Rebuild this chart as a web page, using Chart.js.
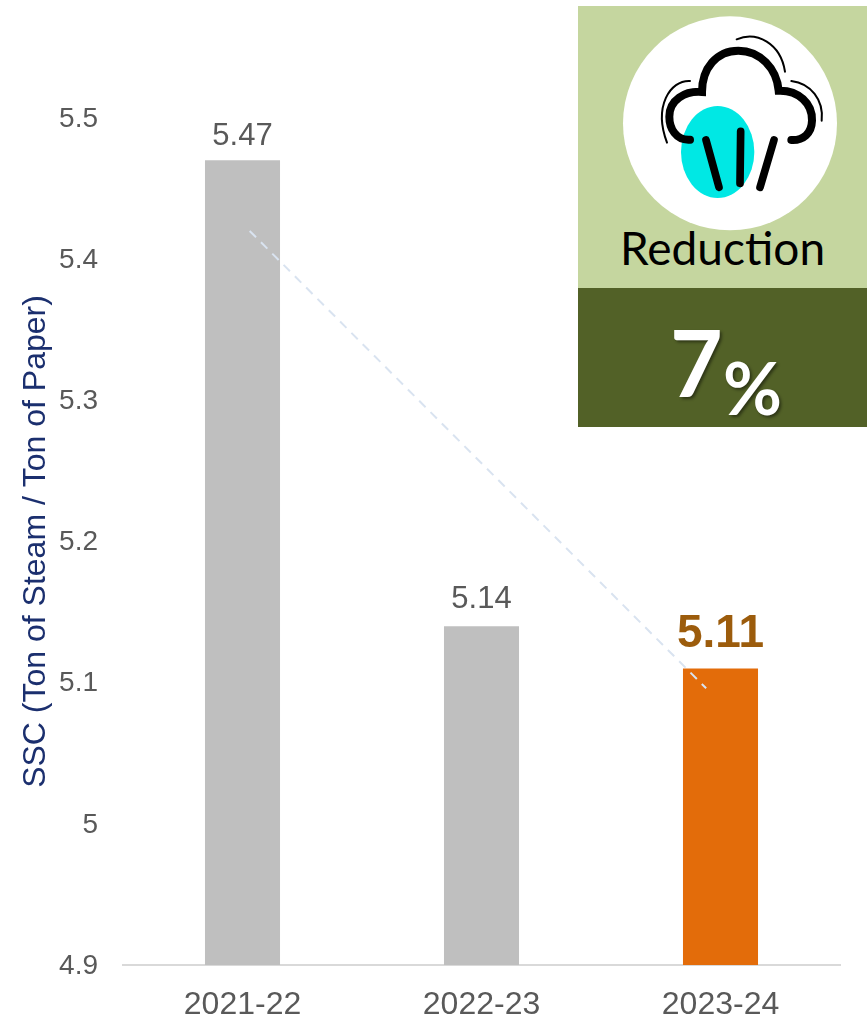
<!DOCTYPE html>
<html>
<head>
<meta charset="utf-8">
<title>SSC Reduction</title>
<script src="https://cdn.jsdelivr.net/npm/chart.js"></script>
<style>
  body { margin: 0; background: #fff; }
  #wrap { position: relative; width: 867px; height: 1020px; overflow: hidden; }
  canvas { position: absolute; left: 0; top: 0; }
  .panel { position: absolute; left: 578px; width: 289px; }
  #top-panel { top: 6px; height: 282px; background: #C5D69F; }
  #bottom-panel { top: 288px; height: 139px; background: #526127; }
  #icon { position: absolute; left: 570px; top: 0; width: 297px; height: 430px; }
  .txt { position: absolute; font-family: Lato, sans-serif; line-height: 1; white-space: nowrap; }
  #reduction { left: 620px; top: 225px; font-size: 46px; color: #000; }
  .pct { color: #fff; font-weight: 700; text-shadow: 2px 2px 3px rgba(0,0,0,.45); }
  #seven { left: 670px; top: 316px; font-size: 91px; }
  #percent { left: 723px; top: 351px; font-size: 72px; }
</style>
</head>
<body>
<div id="wrap">
  <canvas id="sscChart" width="867" height="1020"></canvas>
  <div class="panel" id="top-panel"></div>
  <div class="panel" id="bottom-panel"></div>
  <svg id="icon" viewBox="0 0 891 1290">
    <circle cx="480" cy="370" r="321" fill="#fff"/>
    <ellipse cx="443" cy="456" rx="110" ry="138" fill="#00E8E4"/>
    <g fill="none" stroke="#000" stroke-linecap="round">
      <path stroke-width="24" d="M360 419 C318 422 298 385 298 350 C298 300 345 272 396 276 C396 205 440 152 505 152 C570 152 620 205 626 272 C685 270 728 310 726 362 C725 400 700 422 664 420"/>
      <path stroke-width="23" d="M408 420 L447 562 M512 394 L510 550 M612 420 L570 562"/>
      <path stroke-width="6" d="M500 118 C560 92 632 130 645 215 M664 243 C722 250 762 300 755 362 M360 243 C300 240 250 320 291 428"/>
    </g>
  </svg>
  <div class="txt" id="reduction">Reduction</div>
  <div class="txt pct" id="seven">7</div>
  <div class="txt pct" id="percent">%</div>
</div>
<script>
  const categories = ['2021-22', '2022-23', '2023-24'];
  const sscValues = [5.47, 5.14, 5.11];
  const barColors = ['#BFBFBF', '#BFBFBF', '#E36C0A'];
  const yTicks = [4.9, 5, 5.1, 5.2, 5.3, 5.4, 5.5];

  // trend line, x is in category index units
  const trendX = [0.03, 1.94];
  const trendY = [5.42, 5.096];

  const labelColors = ['#595959', '#595959', '#9C5C0C'];
  const labelFonts = ['31px "Liberation Sans"', '31px "Liberation Sans"', 'bold 46px "Liberation Sans"'];
  const labelGaps = [15, 18, 22];

  // Value labels above the bars
  const barLabels = {
    id: 'barLabels',
    afterDatasetsDraw(chart) {
      const ctx = chart.ctx;
      const bars = chart.getDatasetMeta(1).data;
      ctx.save();
      ctx.textAlign = 'center';
      ctx.textBaseline = 'alphabetic';
      bars.forEach((bar, i) => {
        ctx.font = labelFonts[i];
        ctx.fillStyle = labelColors[i];
        ctx.fillText(sscValues[i].toFixed(2), bar.x, bar.y - labelGaps[i]);
      });
      ctx.restore();
    }
  };

  new Chart(document.getElementById('sscChart').getContext('2d'), {
    type: 'bar',
    data: {
      labels: categories,
      datasets: [
        {
          type: 'scatter',
          xAxisID: 'xTrend',
          data: trendX.map((x, i) => ({ x: x, y: trendY[i] })),
          showLine: true,
          borderColor: '#D9E3F0',
          borderWidth: 2,
          borderDash: [9, 7],
          pointRadius: 0,
          order: 0
        },
        {
          data: sscValues,
          backgroundColor: barColors,
          barPercentage: 0.314,
          categoryPercentage: 1,
          grouped: false,
          order: 1
        }
      ]
    },
    plugins: [barLabels],
    options: {
      responsive: false,
      animation: false,
      layout: { padding: { top: 118, right: 27, left: 0, bottom: 0 } },
      plugins: { legend: { display: false }, tooltip: { enabled: false } },
      scales: {
        x: {
          grid: { display: false, drawTicks: false },
          border: { color: '#D9D9D9', width: 2 },
          ticks: {
            color: '#595959',
            padding: 21,
            maxRotation: 0,
            font: { family: 'Liberation Sans', size: 32 }
          },
          afterFit(scale) { scale.height = 55; }
        },
        xTrend: { type: 'linear', display: false, offset: false, min: -0.5, max: 2.5 },
        y: {
          min: 4.9,
          max: 5.5,
          grid: { display: false, drawTicks: false },
          border: { display: false },
          afterBuildTicks(scale) { scale.ticks = yTicks.map(v => ({ value: v })); },
          ticks: {
            color: '#595959',
            padding: 25,
            labelOffset: 1,
            font: { family: 'Liberation Sans', size: 28 },
            callback: v => String(v)
          },
          title: {
            display: true,
            text: 'SSC (Ton of Steam / Ton of Paper)',
            color: '#1B2F6E',
            font: { family: 'Liberation Sans', size: 32 },
            padding: { top: 17, bottom: 0 }
          },
          afterFit(scale) { scale.width = 123; }
        }
      }
    }
  });
</script>
</body>
</html>
